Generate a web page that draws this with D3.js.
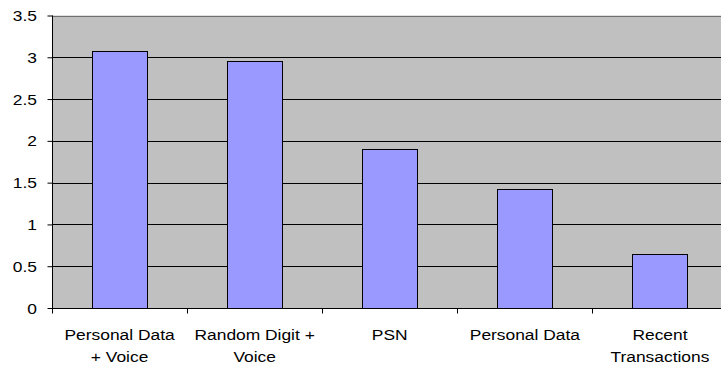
<!DOCTYPE html>
<html>
<head>
<meta charset="utf-8">
<script src="https://cdn.jsdelivr.net/npm/d3@7"></script>
<style>
  html, body { margin: 0; padding: 0; background: #fff; }
  svg { display: block; }
  text { font-family: "Liberation Sans", Arial, sans-serif; fill: #000; }
</style>
</head>
<body>
<svg id="chart" width="721" height="367"></svg>
<script>
// Categories (two-line labels) and their values
const categories = ["Personal Data + Voice", "Random Digit + Voice", "PSN", "Personal Data", "Recent Transactions"];
const labelLines = [["Personal Data", "+ Voice"], ["Random Digit +", "Voice"], ["PSN"], ["Personal Data"], ["Recent", "Transactions"]];
const values = [3.08, 2.95, 1.905, 1.425, 0.645];
const yTicks = [0, 0.5, 1, 1.5, 2, 2.5, 3, 3.5];

const svg = d3.select("#chart");
const plot = { left: 52, top: 15.5, right: 727.5, bottom: 308 };
const fontSize = 14.5, stretch = 1.2;

const x = d3.scaleBand().domain(categories).range([plot.left, plot.right]).paddingInner(0.593).paddingOuter(0.2965);
const xOuter = d3.scaleBand().domain(categories).range([plot.left, plot.right]);
const y = d3.scaleLinear().domain([0, 3.5]).range([plot.bottom, plot.top]);

// plot area
svg.append("rect")
  .attr("x", plot.left).attr("y", plot.top)
  .attr("width", plot.right - plot.left).attr("height", plot.bottom - plot.top)
  .attr("fill", "#c0c0c0");

// horizontal gridlines
svg.append("g").selectAll("line").data(yTicks.filter(d => d > 0)).join("line")
  .attr("x1", plot.left).attr("x2", plot.right)
  .attr("y1", d => Math.round(y(d)) + 0.5).attr("y2", d => Math.round(y(d)) + 0.5)
  .attr("stroke", d => d === 3.5 ? "#6e6e6e" : "#000")
  .attr("stroke-width", 1);

// bars
svg.append("g").selectAll("rect").data(categories).join("rect")
  .attr("x", d => Math.round(x(d)) + 0.5)
  .attr("y", (d, i) => Math.round(y(values[i])) + 0.5)
  .attr("width", Math.round(x.bandwidth()))
  .attr("height", (d, i) => Math.round(y(0)) - Math.round(y(values[i])))
  .attr("fill", "#9999ff")
  .attr("stroke", "#000")
  .attr("stroke-width", 1);

// y axis
const yAxis = d3.axisLeft(y).tickValues(yTicks).tickSize(5).tickPadding(4)
  .tickFormat(d => String(d));
const gy = svg.append("g").attr("transform", `translate(${plot.left + 0.5},0)`).call(yAxis);
gy.select(".domain").attr("stroke", "#000").attr("d", `M0,${plot.top}V${plot.bottom}`);
gy.selectAll(".tick line").attr("stroke", "#000");
gy.selectAll(".tick text").remove();
gy.selectAll(".tick").append("text")
  .attr("text-anchor", "end")
  .attr("font-size", fontSize)
  .attr("transform", `translate(-15.5,5) scale(${stretch},1)`)
  .text(d => String(d));

// x axis baseline and category boundary ticks
const boundaries = categories.map(c => xOuter(c)).concat([plot.right]);
svg.append("line")
  .attr("x1", plot.left).attr("x2", plot.right)
  .attr("y1", Math.round(y(0)) + 0.5).attr("y2", Math.round(y(0)) + 0.5)
  .attr("stroke", "#000");
svg.append("g").selectAll("line").data(boundaries).join("line")
  .attr("x1", d => Math.round(d) + 0.5).attr("x2", d => Math.round(d) + 0.5)
  .attr("y1", Math.round(y(0))).attr("y2", Math.round(y(0)) + 5.5)
  .attr("stroke", "#000");

// category labels
const lab = svg.append("g").selectAll("g").data(categories).join("g")
  .attr("transform", d => `translate(${xOuter(d) + xOuter.bandwidth() / 2},339.5)`);
lab.each(function(d, i) {
  const t = d3.select(this).append("text")
    .attr("text-anchor", "middle")
    .attr("font-size", fontSize)
    .attr("transform", `scale(${stretch},1)`);
  labelLines[i].forEach((line, k) => {
    t.append("tspan").attr("x", 0).attr("y", k * 23).text(line);
  });
});
</script>
</body>
</html>
